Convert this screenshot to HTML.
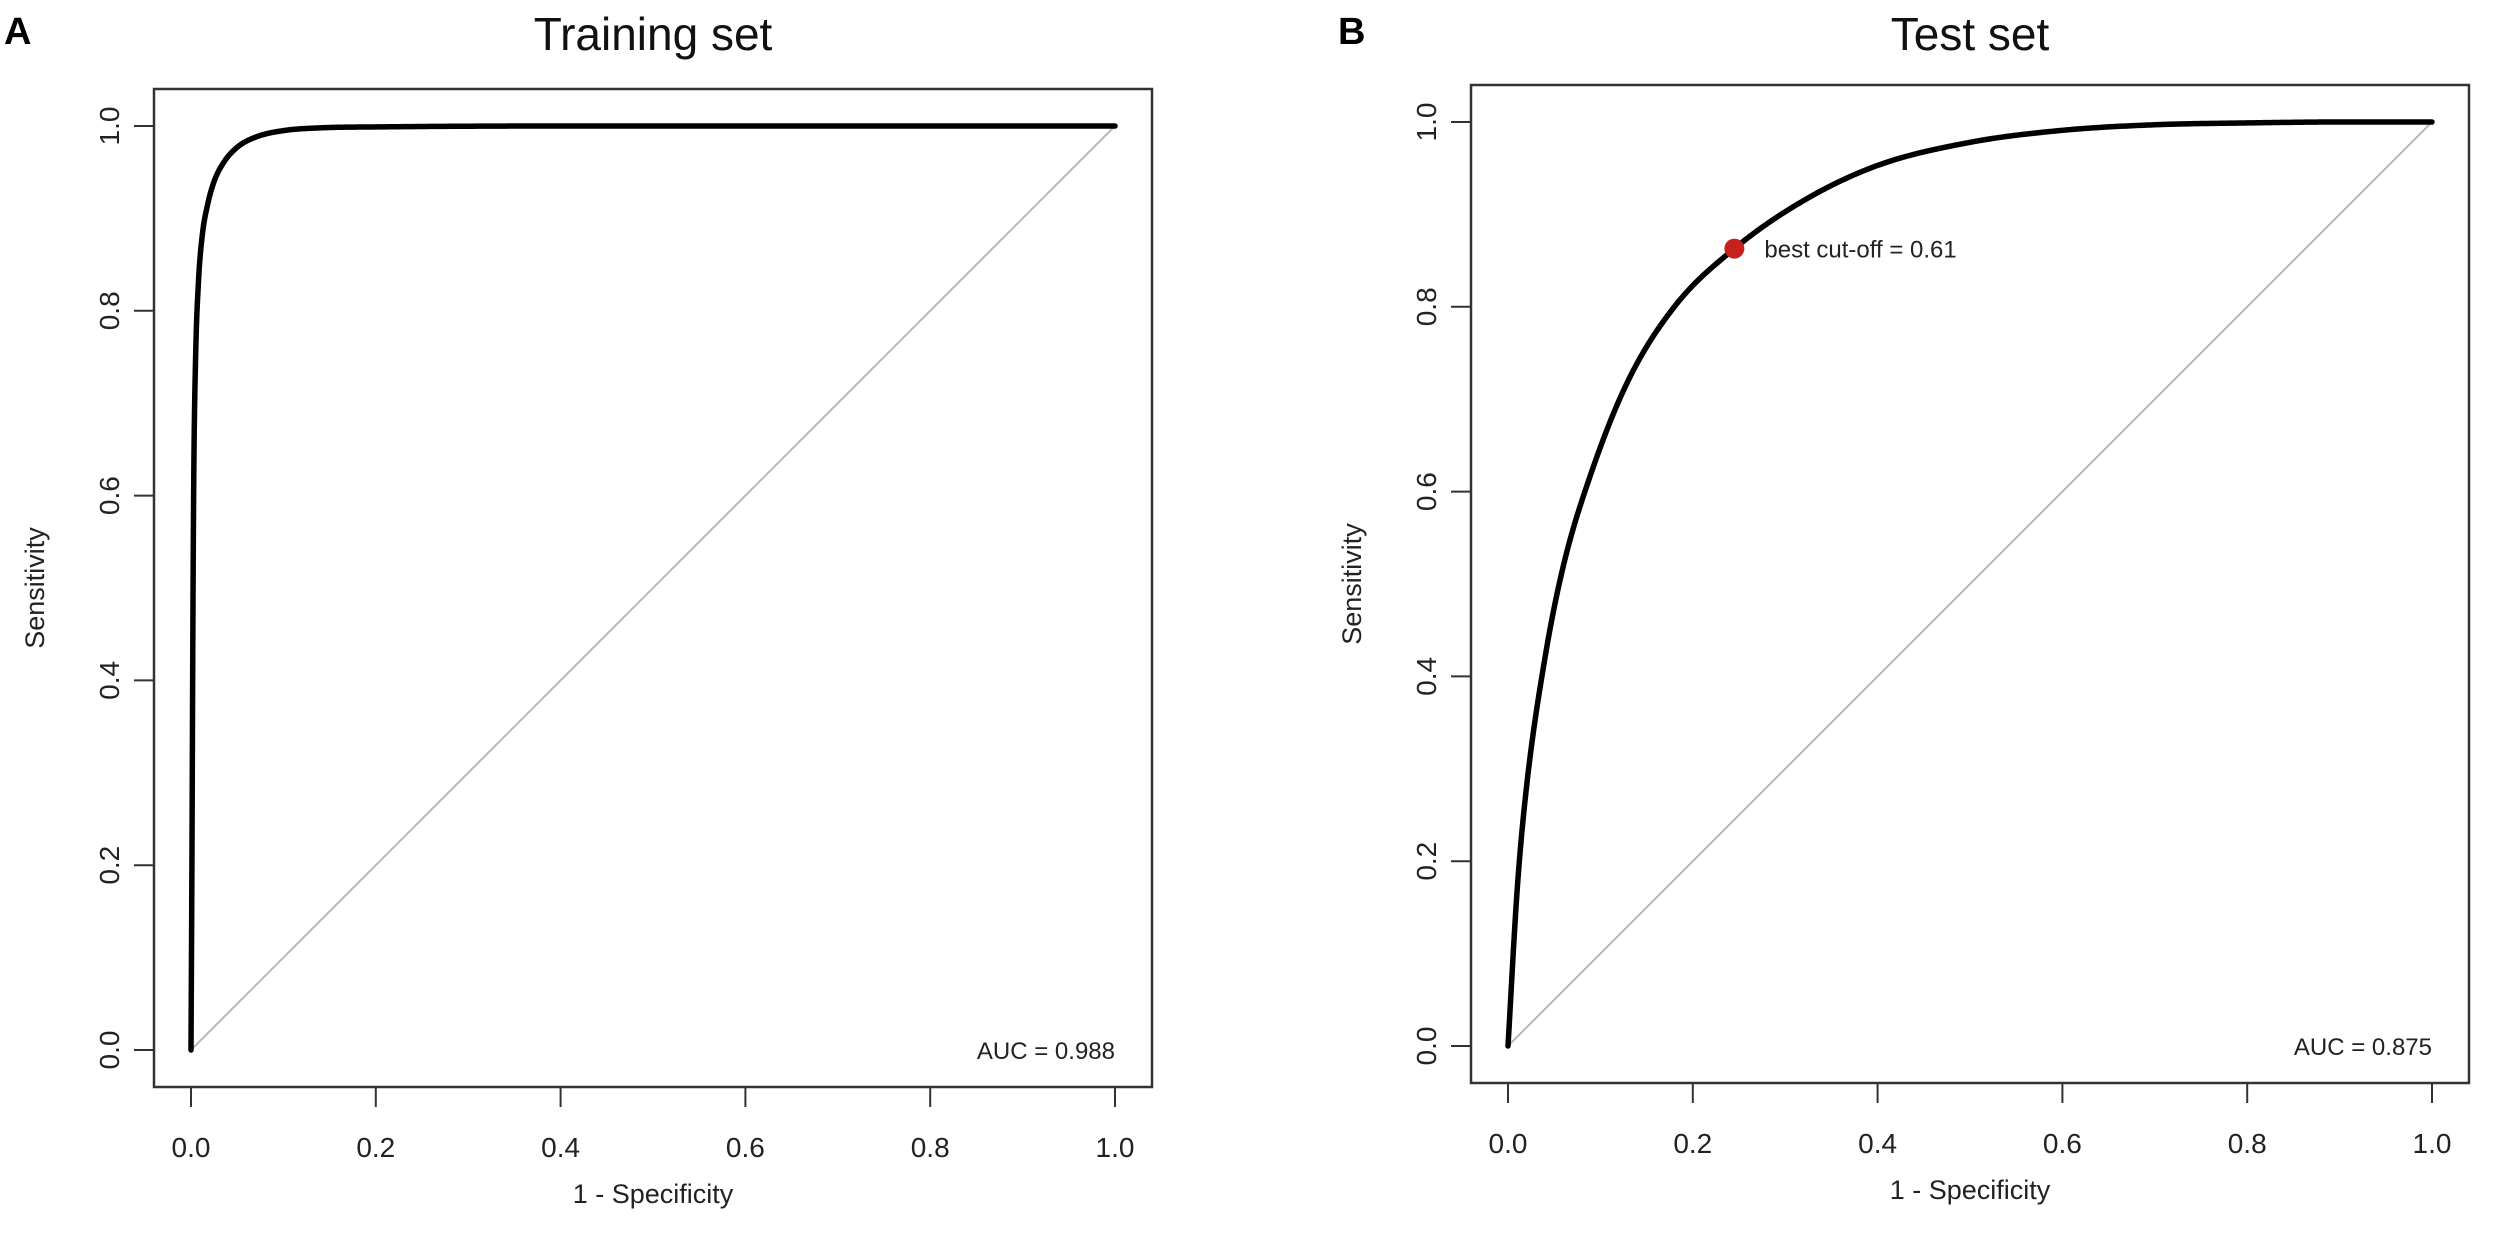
<!DOCTYPE html>
<html><head><meta charset="utf-8">
<style>
html,body{margin:0;padding:0;background:#fff;}
svg{display:block;font-family:"Liberation Sans",Arial,sans-serif;}
</style></head>
<body>
<svg id="chart" width="2500" height="1241" viewBox="0 0 2500 1241" xmlns="http://www.w3.org/2000/svg"></svg>
<script>
const ticks = [0, 0.2, 0.4, 0.6, 0.8, 1.0];
const tickLabels = ["0.0", "0.2", "0.4", "0.6", "0.8", "1.0"];
const trainFpr = [0, 0.001, 0.002, 0.003, 0.005, 0.008, 0.012, 0.018, 0.025, 0.035, 0.05, 0.07, 0.1, 0.14, 0.2, 0.4, 1.0];
const trainTpr = [0, 0.2, 0.45, 0.62, 0.75, 0.83, 0.88, 0.915, 0.94, 0.96, 0.977, 0.988, 0.995, 0.998, 0.999, 1.0, 1.0];
const testFpr = [0, 0.01, 0.02, 0.04, 0.06, 0.09, 0.13, 0.18, 0.245, 0.32, 0.4, 0.5, 0.6, 0.7, 0.8, 0.9, 1.0];
const testTpr = [0, 0.17, 0.28, 0.42, 0.52, 0.62, 0.72, 0.8, 0.863, 0.915, 0.953, 0.978, 0.991, 0.997, 0.999, 1.0, 1.0];
const trainAuc = "0.988";
const testAuc = "0.875";
const cutoffFpr = 0.245, cutoffTpr = 0.863, cutoffLabel = "0.61";

const NS = "http://www.w3.org/2000/svg";
const svg = document.getElementById("chart");
function mk(tag, attrs, parent) {
  const e = document.createElementNS(NS, tag);
  for (const k in attrs) e.setAttribute(k, attrs[k]);
  (parent || svg).appendChild(e);
  return e;
}
// monotone cubic (Fritsch-Carlson) in data space, sampled densely
function monotone(xs, ys) {
  const n = xs.length, d = [], m = [];
  for (let i = 0; i < n - 1; i++) d.push((ys[i + 1] - ys[i]) / (xs[i + 1] - xs[i]));
  m[0] = d[0]; m[n - 1] = d[n - 2];
  for (let i = 1; i < n - 1; i++) m[i] = (d[i - 1] * d[i] <= 0) ? 0 : (d[i - 1] + d[i]) / 2;
  for (let i = 0; i < n - 1; i++) {
    if (d[i] === 0) { m[i] = 0; m[i + 1] = 0; continue; }
    const a = m[i] / d[i], b = m[i + 1] / d[i], s = a * a + b * b;
    if (s > 9) { const t = 3 / Math.sqrt(s); m[i] = t * a * d[i]; m[i + 1] = t * b * d[i]; }
  }
  const out = [];
  for (let i = 0; i < n - 1; i++) {
    const h = xs[i + 1] - xs[i], N = 40;
    for (let k = 0; k < N; k++) {
      const t = k / N, t2 = t * t, t3 = t2 * t;
      const y = (2 * t3 - 3 * t2 + 1) * ys[i] + (t3 - 2 * t2 + t) * h * m[i] + (-2 * t3 + 3 * t2) * ys[i + 1] + (t3 - t2) * h * m[i + 1];
      out.push([xs[i] + t * h, y]);
    }
  }
  out.push([xs[n - 1], ys[n - 1]]);
  return out;
}
function panel(cfg) {
  const g = mk("g", {});
  
  
  const x0 = cfg.x0, y0 = cfg.y0, span = 924;
  const sx = v => x0 + v * span;
  const sy = v => y0 - v * span;
  const pad = 37;
  const L = mk("text", {x: cfg.letterX, y: 44, "font-size": 38, "font-weight": "bold", fill: "#000"}, g);
  L.textContent = cfg.letter;
  
  
  const T = mk("text", {x: (sx(0) + sx(1)) / 2, y: 50, "font-size": 46, "text-anchor": "middle", fill: "#111"}, g);
  T.textContent = cfg.title;
  
  
  const D = mk("line", {x1: sx(0), y1: sy(0), x2: sx(1), y2: sy(1), stroke: "#b8b8b8", "stroke-width": 2}, g);
  
  
  const B = mk("rect", {x: sx(0) - pad, y: sy(1) - pad, width: span + 2 * pad, height: span + 2 * pad, fill: "none", stroke: "#333", "stroke-width": 2.5}, g);
  
  
  ticks.forEach((t, i) => {
    const xt = mk("line", {x1: sx(t), y1: y0 + pad, x2: sx(t), y2: y0 + pad + 20, stroke: "#333", "stroke-width": 2}, g);
    
    
    const xl = mk("text", {x: sx(t), y: y0 + 107, "font-size": 28, "text-anchor": "middle", fill: "#222"}, g);
    xl.textContent = tickLabels[i];
    
    
    const yt = mk("line", {x1: x0 - pad, y1: sy(t), x2: x0 - pad - 20, y2: sy(t), stroke: "#333", "stroke-width": 2}, g);
    
    
    const yl = mk("text", {x: 0, y: 0, "font-size": 28, "text-anchor": "middle", fill: "#222",
      transform: "translate(" + (x0 - pad - 35) + "," + sy(t) + ") rotate(-90)"}, g);
    yl.textContent = tickLabels[i];
    
    
  });
  const XL = mk("text", {x: (sx(0) + sx(1)) / 2, y: y0 + 153, "font-size": 27, "text-anchor": "middle", fill: "#222"}, g);
  XL.textContent = "1 - Specificity";
  
  
  const YL = mk("text", {x: 0, y: 0, "font-size": 27, "text-anchor": "middle", fill: "#222",
    transform: "translate(" + (x0 - 147) + "," + sy(0.5) + ") rotate(-90)"}, g);
  YL.textContent = "Sensitivity";
  
  
  const pts = monotone(cfg.fpr, cfg.tpr);
  const d = pts.map((p, i) => (i ? "L" : "M") + sx(p[0]).toFixed(2) + "," + sy(p[1]).toFixed(2)).join(" ");
  const C = mk("path", {d: d, fill: "none", stroke: "#000", "stroke-width": 5.5, "stroke-linejoin": "round", "stroke-linecap": "round"}, g);
  
  
  const A = mk("text", {x: sx(1), y: sy(0) + 9, "font-size": 24, "text-anchor": "end", fill: "#222"}, g);
  A.textContent = "AUC = " + cfg.auc;
  
  
  return {g, sx, sy};
}
panel({name: "training-panel", letter: "A", letterX: 4, title: "Training set", x0: 191, y0: 1050, fpr: trainFpr, tpr: trainTpr, auc: trainAuc});
const pb = panel({name: "test-panel", letter: "B", letterX: 1338, title: "Test set", x0: 1508, y0: 1046, fpr: testFpr, tpr: testTpr, auc: testAuc});
const dot = mk("circle", {cx: pb.sx(cutoffFpr), cy: pb.sy(cutoffTpr), r: 10, fill: "#c8201e"}, pb.g);


const dl = mk("text", {x: pb.sx(cutoffFpr) + 30, y: pb.sy(cutoffTpr) + 9, "font-size": 24, fill: "#222"}, pb.g);
dl.textContent = "best cut-off = " + cutoffLabel;


</script>
</body></html>
